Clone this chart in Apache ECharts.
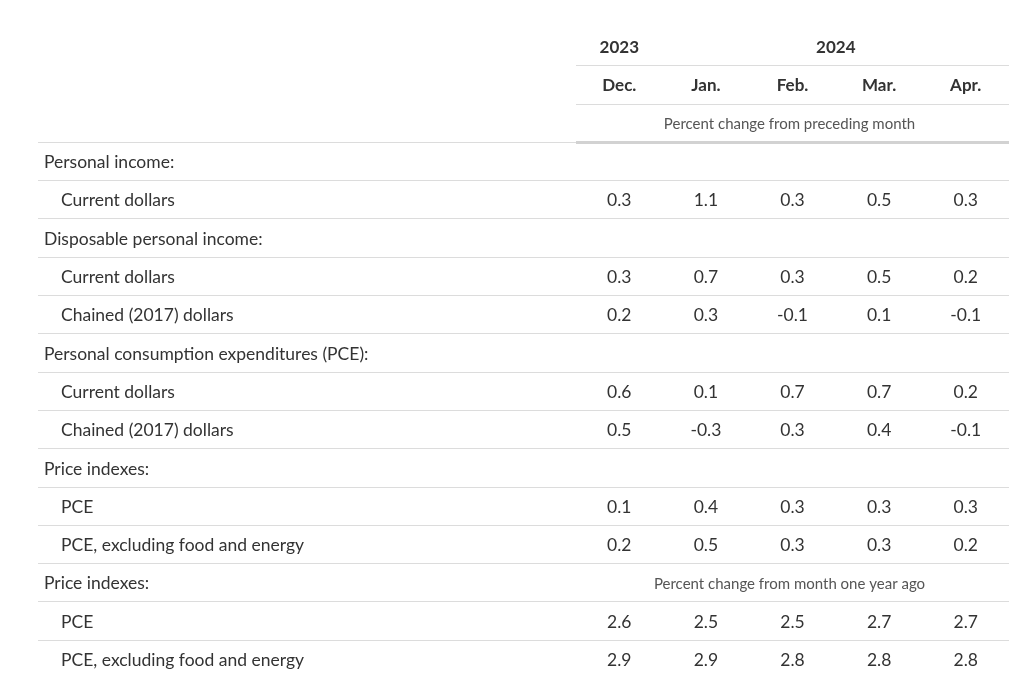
<!DOCTYPE html>
<html lang="en">
<head>
    <meta charset="UTF-8">
    <title>Personal income and outlays</title>
    <script src="https://cdn.jsdelivr.net/npm/echarts@6/dist/echarts.min.js"></script>
    <style>
        html, body { margin: 0; padding: 0; background: #fff; }
        #main { width: 1024px; height: 690px; }
    </style>
</head>
<body>
<div id="main"></div>
<script>
    // table data
    const years = ['2023', '2024'];
    const yearSpans = [[0, 0], [1, 4]];
    const months = ['Dec.', 'Jan.', 'Feb.', 'Mar.', 'Apr.'];
    const notes = ['Percent change from preceding month', 'Percent change from month one year ago'];
    const rowLabels = [
        'Personal income:', 'Current dollars',
        'Disposable personal income:', 'Current dollars', 'Chained (2017) dollars',
        'Personal consumption expenditures (PCE):', 'Current dollars', 'Chained (2017) dollars',
        'Price indexes:', 'PCE', 'PCE, excluding food and energy',
        'Price indexes:', 'PCE', 'PCE, excluding food and energy'
    ];
    const rowIndent = [0, 1, 0, 1, 1, 0, 1, 1, 0, 1, 1, 0, 1, 1];
    const piCurrent = [0.3, 1.1, 0.3, 0.5, 0.3];
    const dpiCurrent = [0.3, 0.7, 0.3, 0.5, 0.2];
    const dpiChained = [0.2, 0.3, -0.1, 0.1, -0.1];
    const pceCurrent = [0.6, 0.1, 0.7, 0.7, 0.2];
    const pceChained = [0.5, -0.3, 0.3, 0.4, -0.1];
    const priceMonthly = [0.1, 0.4, 0.3, 0.3, 0.3];
    const coreMonthly = [0.2, 0.5, 0.3, 0.3, 0.2];
    const priceYearly = [2.6, 2.5, 2.5, 2.7, 2.7];
    const coreYearly = [2.9, 2.9, 2.8, 2.8, 2.8];
    const rowValues = [null, piCurrent, null, dpiCurrent, dpiChained, null, pceCurrent, pceChained,
        null, priceMonthly, coreMonthly, null, priceYearly, coreYearly];
    const yearlyNoteRow = 11;

    const headRows = 3;
    const rowCats = ['year', 'month', 'note'].concat(rowLabels.map((l, i) => 'r' + i));
    const lastRow = rowCats.length - 1;

    const styles = {
        head: { font: 'bold 17px Lato', color: '#333' },
        note: { font: '15px Lato', color: '#555' },
        num: { font: '17.5px Lato', color: '#333' },
        label: { font: '17.5px Lato', color: '#333' }
    };

    // cells of the number columns
    const cells = [];
    years.forEach((y, i) => cells.push({ col: yearSpans[i][0], colEnd: yearSpans[i][1], row: 0, text: y, kind: 'head' }));
    months.forEach((m, i) => cells.push({ col: i, colEnd: i, row: 1, text: m, kind: 'head' }));
    cells.push({ col: 0, colEnd: 4, row: 2, text: notes[0], kind: 'note' });
    rowValues.forEach((vals, r) => {
        if (!vals) return;
        vals.forEach((v, c) => cells.push({ col: c, colEnd: c, row: r + headRows, text: v.toFixed(1), kind: 'num' }));
    });
    cells.push({ col: 0, colEnd: 4, row: yearlyNoteRow + headRows, text: notes[1], kind: 'note' });

    function textEl(x, y, text, st, align) {
        return {
            type: 'text', x: x, y: y + 1.5,
            style: {
                text: text, fill: st.color, font: st.font,
                textAlign: align, textVerticalAlign: 'middle',
                align: align, verticalAlign: 'middle'
            }
        };
    }

    function renderCell(params, api) {
        const cell = cells[params.dataIndex];
        const a = api.coord([cell.col, cell.row]);
        const b = api.coord([cell.colEnd, cell.row]);
        let x = (a[0] + b[0]) / 2;
        // the note rows are centred on the whole block of number columns
        if (cell.kind === 'note') x = params.coordSys.x + params.coordSys.width / 2 - 3;
        return textEl(x, a[1], cell.text, styles[cell.kind], 'center');
    }

    function renderLabel(params, api) {
        const r = params.dataIndex;
        const p = api.coord([0, r + headRows]);
        const x = params.coordSys.x + 6 + rowIndent[r] * 17;
        return textEl(x, p[1], rowLabels[r], styles.label, 'left');
    }

    function makeRule(thickRow) {
        return function (params, api) {
            const row = api.value(1);
            const p = api.coord([0, row]);
            const h = api.size([0, 1])[1];
            const thick = row === thickRow;
            const y = Math.round(p[1] + h / 2) - (thick ? 1 : 0);
            return {
                type: 'rect',
                shape: { x: params.coordSys.x, y: y, width: params.coordSys.width, height: thick ? 3 : 1 },
                style: { fill: thick ? '#d2d2d2' : '#dcdcdc' }
            };
        };
    }

    const rightRules = [];
    for (let r = 0; r < lastRow; r++) rightRules.push([0, r]);
    const leftRules = [];
    for (let r = headRows - 1; r < lastRow; r++) leftRules.push([0, r]);

    const chart = echarts.init(document.getElementById('main'));
    const yAxisBase = { type: 'category', data: rowCats, inverse: true, show: false };
    chart.setOption({
        animation: false,
        grid: [
            { left: 38, width: 538, top: 27, bottom: 12 },
            { left: 576, right: 15, top: 27, bottom: 12 }
        ],
        xAxis: [
            { type: 'category', data: ['label'], gridIndex: 0, show: false },
            { type: 'category', data: months, gridIndex: 1, show: false }
        ],
        yAxis: [
            Object.assign({ gridIndex: 0 }, yAxisBase),
            Object.assign({ gridIndex: 1 }, yAxisBase)
        ],
        series: [
            {
                type: 'custom', xAxisIndex: 0, yAxisIndex: 0, silent: true,
                renderItem: makeRule(-1), data: leftRules
            },
            {
                type: 'custom', xAxisIndex: 1, yAxisIndex: 1, silent: true,
                renderItem: makeRule(headRows - 1), data: rightRules
            },
            {
                type: 'custom', xAxisIndex: 0, yAxisIndex: 0, silent: true,
                renderItem: renderLabel,
                data: rowLabels.map((l, i) => [0, i + headRows])
            },
            {
                type: 'custom', xAxisIndex: 1, yAxisIndex: 1, silent: true,
                renderItem: renderCell,
                data: cells.map(c => [c.col, c.row])
            }
        ]
    });
</script>
</body>
</html>
